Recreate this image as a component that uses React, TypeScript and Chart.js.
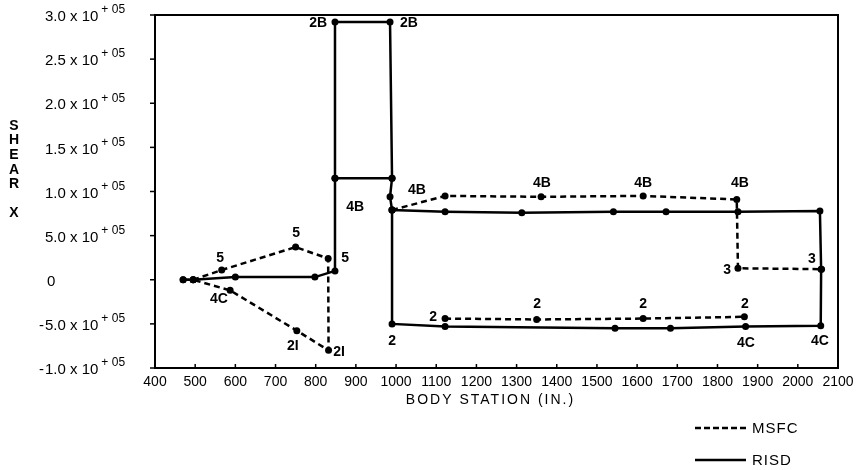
import React, { useEffect, useRef } from "react";
import { Chart, registerables } from "chart.js";

Chart.register(...registerables);

// ---------- DATA ----------
// RISD (solid) main path: left branch, tall box, right loop
const risdMainX = [470, 495, 600, 798, 848, 848, 848, 985, 990, 985, 990, 1122, 1313, 1541, 1672, 1851, 2055, 2058, 2057, 1870, 1683, 1545, 1122, 990, 990];
const risdMainY = [0, 0, 3000, 3000, 10000, 115000, 292000, 292000, 115000, 94000, 79000, 77000, 76000, 77000, 77000, 77000, 78000, 12000, -52000, -53000, -55000, -55000, -53000, -50000, 79000];
// RISD box bottom edge
const risdBoxX = [848, 990];
const risdBoxY = [115000, 115000];

// MSFC (dashed)
const msfcLeftX = [470, 495, 566, 750, 831, 832, 753, 587, 495];
const msfcLeftY = [0, 0, 11000, 37000, 24000, -80000, -57700, -12000, 0];
const msfcTopX = [990, 1122, 1361, 1615, 1848, 1851, 2059];
const msfcTopY = [79000, 95000, 94000, 95000, 91000, 13000, 12000];
const msfcBottomX = [1122, 1350, 1615, 1867];
const msfcBottomY = [-44000, -45000, -44000, -42000];

// Point annotations (text at data coordinates)
const noteText = ["2B", "2B", "4B", "4B", "5", "5", "5", "4C", "2I", "2I", "2", "2", "2", "4B", "2", "4B", "4B", "2", "4C", "4C", "3", "3"];
const noteX = [806, 1032, 898, 1052, 562, 751, 873, 559, 743, 858, 990, 1092, 1351, 1363, 1615, 1615, 1856, 1868, 1871, 2055, 1824, 2035];
const noteY = [291300, 291300, 82200, 101500, 24300, 52600, 24300, -21800, -74800, -81600, -69400, -42200, -27500, 109600, -27500, 109600, 109600, -27500, -71700, -69400, 11000, 23500];

// Axis ticks
const yTickValues = [300000, 250000, 200000, 150000, 100000, 50000, 0, -50000, -100000];
const yTickMain = ["3.0 x 10", "2.5 x 10", "2.0 x 10", "1.5 x 10", "1.0 x 10", "5.0 x 10", "0", "-5.0 x 10", "-1.0 x 10"];
const yTickSup = ["+ 05", "+ 05", "+ 05", "+ 05", "+ 05", "+ 05", "", "+ 05", "+ 05"];
const yTitleLetters = ["S", "H", "E", "A", "R", "", "X"];
const xTitle = "BODY STATION (IN.)";
const legendNames = ["MSFC", "RISD"];

const FONT = "'Liberation Sans', Arial, Helvetica, sans-serif";
const INK = "#000";

function pts(xs: number[], ys: number[]) {
  return xs.map((x, i) => ({ x, y: ys[i] }));
}

const decoPlugin = {
  id: "deco",
  afterDraw(chart: any) {
    const ctx: CanvasRenderingContext2D = chart.ctx;
    const { left, right, top, bottom } = chart.chartArea;
    const xs = chart.scales.x;
    const ys = chart.scales.y;
    ctx.save();
    ctx.strokeStyle = INK;
    ctx.fillStyle = INK;
    ctx.lineWidth = 2;
    ctx.setLineDash([]);
    ctx.strokeRect(left, top, right - left, bottom - top);

    // tick marks
    ctx.lineWidth = 1.5;
    yTickValues.forEach((v) => {
      const py = ys.getPixelForValue(v);
      ctx.beginPath();
      ctx.moveTo(left - 5, py);
      ctx.lineTo(left, py);
      ctx.stroke();
    });
    xs.ticks.forEach((t: any) => {
      const px = xs.getPixelForValue(t.value);
      ctx.beginPath();
      ctx.moveTo(px, bottom + 1);
      ctx.lineTo(px, bottom - 4);
      ctx.stroke();
    });

    // y tick labels with superscript exponent
    const lx = 45;
    ctx.textBaseline = "middle";
    yTickValues.forEach((v, i) => {
      const py = ys.getPixelForValue(v) + 2;
      let main = yTickMain[i];
      ctx.font = `15px ${FONT}`;
      if (main.startsWith("-")) {
        ctx.textAlign = "right";
        ctx.fillText("-", lx - 1, py);
        main = main.slice(1);
      }
      ctx.textAlign = "left";
      const x0 = main === "0" ? lx + 2 : lx;
      ctx.fillText(main, x0, py);
      const w = ctx.measureText(main).width;
      if (yTickSup[i]) {
        ctx.font = `12px ${FONT}`;
        ctx.fillText(yTickSup[i], x0 + w + 3, py - 7);
      }
    });

    // y title stacked letters
    ctx.font = `bold 14px ${FONT}`;
    ctx.textAlign = "center";
    yTitleLetters.forEach((ch, i) => {
      if (ch) ctx.fillText(ch, 14, 126 + i * 14.6);
    });

    // x title
    ctx.font = `14px ${FONT}`;
    (ctx as any).letterSpacing = "2px";
    ctx.textAlign = "center";
    ctx.fillText(xTitle, (left + right) / 2 - 6, bottom + 32);
    (ctx as any).letterSpacing = "0px";

    // legend
    const ly = [bottom + 60, bottom + 92];
    ctx.lineWidth = 2.5;
    legendNames.forEach((name, i) => {
      ctx.setLineDash(i === 0 ? [6, 3] : []);
      ctx.beginPath();
      ctx.moveTo(695, ly[i]);
      ctx.lineTo(746, ly[i]);
      ctx.stroke();
      ctx.setLineDash([]);
      ctx.font = `15px ${FONT}`;
      (ctx as any).letterSpacing = "1px";
      ctx.textAlign = "left";
      ctx.fillText(name, 752, ly[i] + 1);
      (ctx as any).letterSpacing = "0px";
    });

    // point annotations
    ctx.font = `bold 14px ${FONT}`;
    ctx.textAlign = "center";
    noteText.forEach((t, i) => {
      ctx.fillText(t, xs.getPixelForValue(noteX[i]), ys.getPixelForValue(noteY[i]));
    });
    ctx.restore();
  },
};

export default function App() {
  const ref = useRef<HTMLCanvasElement | null>(null);
  useEffect(() => {
    if (!ref.current) return;
    const solid = {
      borderColor: INK,
      borderWidth: 2.5,
      pointRadius: 3.5,
      pointBackgroundColor: INK,
      pointBorderWidth: 0,
      showLine: true,
      fill: false,
      tension: 0,
    };
    const dashed = { ...solid, borderDash: [6, 4] };
    const chart = new Chart(ref.current, {
      type: "scatter",
      data: {
        datasets: [
          { label: "RISD", data: pts(risdMainX, risdMainY), ...solid },
          { label: "RISD", data: pts(risdBoxX, risdBoxY), ...solid },
          { label: "MSFC", data: pts(msfcLeftX, msfcLeftY), ...dashed },
          { label: "MSFC", data: pts(msfcTopX, msfcTopY), ...dashed },
          { label: "MSFC", data: pts(msfcBottomX, msfcBottomY), ...dashed },
        ],
      },
      options: {
        responsive: false,
        animation: false,
        layout: { padding: { top: 15, right: 20, left: 0, bottom: 0 } },
        plugins: { legend: { display: false }, tooltip: { enabled: false } },
        scales: {
          x: {
            type: "linear",
            min: 400,
            max: 2100,
            ticks: {
              stepSize: 100,
              autoSkip: false,
              maxRotation: 0,
              padding: 6,
              color: INK,
              font: { family: FONT, size: 14 },
              callback: (v: any) => String(v),
            },
            grid: { display: false, drawTicks: false },
            border: { display: false },
            afterFit: (s: any) => {
              s.height = 102;
              s.paddingLeft = 0;
              s.paddingRight = 0;
            },
          },
          y: {
            type: "linear",
            min: -100000,
            max: 300000,
            ticks: { stepSize: 50000, display: false },
            grid: { display: false, drawTicks: false },
            border: { display: false },
            afterFit: (s: any) => {
              s.width = 155;
              s.paddingTop = 0;
              s.paddingBottom = 0;
            },
          },
        },
      },
      plugins: [decoPlugin],
    } as any);
    return () => chart.destroy();
  }, []);
  return (
    <div style={{ position: "absolute", left: 0, top: 0, width: 858, height: 470, background: "#fff" }}>
      <canvas ref={ref} width={858} height={470} style={{ display: "block" }} />
    </div>
  );
}
